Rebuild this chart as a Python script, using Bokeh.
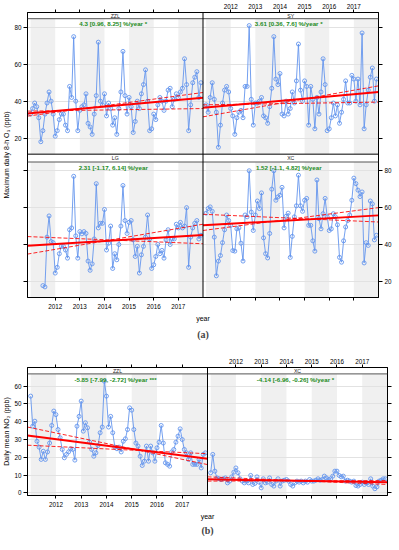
from bokeh.plotting import figure
from bokeh.models import Range1d, LinearAxis, FixedTicker, Span, Title, Grid
from bokeh.layouts import column
from bokeh.embed import file_html
from bokeh.resources import INLINE
from bokeh.core.properties import value

FONT = "Liberation Sans"
BLUE = "cornflowerblue"
GREEN = "forestgreen"

# ---------------- data (monthly means, Jan 2011 - Dec 2017) ----------------
start_year = 2011
tick_years = [2012, 2013, 2014, 2015, 2016, 2017]
shade_years = [2011, 2013, 2015, 2017]
o3_ticks = [20, 40, 60, 80]
no2_ticks = [0, 10, 20, 30, 40, 50, 60]

zzl_o3 = [33, 36, 39, 37, 31, 18, 24, 33, 39, 45, 40, 33,
          21, 24, 30, 33, 33, 27, 24, 48, 42, 75, 40, 24,
          35, 37, 38, 44, 28, 26, 22, 33, 43, 72, 40, 38,
          44, 32, 39, 36, 27, 31, 22, 36, 45, 67, 43, 33,
          42, 37, 23, 29, 40, 36, 44, 49, 57, 40, 24, 25,
          33, 30, 38, 42, 40, 35, 40, 46, 47, 37, 41, 44,
          42, 45, 47, 63, 49, 24, 38, 50, 53, 56, 42, 50]
sy_o3 = [38, 34, 42, 50, 41, 34, 15, 27, 39, 46, 48, 45,
         36, 32, 22, 31, 34, 35, 31, 48, 48, 81, 41, 27,
         39, 39, 40, 42, 32, 31, 28, 37, 47, 75, 52, 49,
         55, 33, 32, 40, 33, 36, 45, 39, 51, 71, 46, 40,
         51, 48, 27, 48, 41, 25, 42, 33, 45, 63, 49, 24,
         25, 31, 39, 32, 38, 28, 34, 41, 51, 39, 39, 54,
         52, 40, 52, 38, 77, 25, 38, 46, 53, 58, 40, 52]
lg_o3 = [None, None, None, None, None, None, 17.7, 17, 44, 55.5, 41.6, 41,
         24.5, 27.6, 35, 39, 39, 37, 32.6, 48, 49, 77, 44.7, 32.6,
         47, 45.8, 47, 46, 31, 26, 29.5, 43, 73, 49, 51.5, 51.5,
         59, 37, 40.7, 50, 27, 35, 31.7, 40, 50, 72, 53, 46,
         52, 53, 42.5, 33.5, 39, 24.5, 34.4, 39, 44, 56, 43, 27,
         29, 33.5, 40, 35, 36.8, 32.6, 42.5, 48, 40, 43, 43, 51,
         49, 52, 49, 50, 60, 27.6, 44, 49, 51.5, 53, 43, 45]
xc_o3 = [57, 59.5, 60.4, 58, 44, 23, 31, 34, 41, 48, 56, 53,
         50.4, 36.7, 36.4, 48.5, 49, 40.7, 31, 56, 55, 80, 57.6, 47.6,
         56, 63.6, 59.5, 68, 43.6, 35, 32.7, 46, 70, 80, 64, 65.8,
         66.7, 71, 49, 55.3, 57, 33, 44.4, 55, 61, 77.6, 61, 58,
         64, 65, 50.4, 50.4, 42, 36.4, 75, 54, 48.5, 56.7, 65, 55,
         47.6, 48.5, 56.7, 55, 50.7, 33, 30.4, 42, 49.5, 53, 56, 64,
         76, 73, 69.5, 66, 68.5, 30, 41, 39.5, 63.6, 62, 42.5, 45]
zzl_no2 = [54.4, 37.5, 40.3, 29, 25.7, 18.8, 23.4, 18.8, 23, 28, 37.9, 46,
           44, 35.6, 31, 24.4, 19.7, 21.6, 23, 24.8, 24.4, 18.4, 37.5, 43,
           51.6, 34.7, 39.4, 36.6, 28.5, 24.4, 20.6, 22.5, 26.6, 33.8, 37, 62.8,
           54.4, 37, 43, 33.8, 25.7, 24.8, 25.7, 23, 29, 30.4, 35.6, 47.8,
           46.5, 35.6, 28, 26.3, 20.6, 15.4, 17.8, 26.3, 17.8, 26.3, 22.5, 17.8,
           25.3, 28.5, 37.9, 28, 16.9, 16, 15, 23, 24.4, 28.5, 31.9, 36,
           30, 24.4, 22.5, 18.8, 22.5, 16, 16, 16, 18.8, 14, 21.6, 22.5]
xc_no2 = [11.3, 21.6, 12.2, 8.4, 7.9, 7.5, 7.9, 8.4, 5.6, 6.6, 9, 11.6,
          14, 11.3, 7.9, 6.6, 5.6, 6.6, 5.6, 9.8, 4.7, 5.3, 9, 6,
          2.8, 7.9, 5.6, 6, 8.4, 4.7, 3.8, 6.6, 7.9, 3.8, 6.6, 7.1,
          7.5, 6.6, 4.7, 3.8, 5.6, 6.6, 6, 6.6, 5.6, 6.6, 6, 7.5,
          6.6, 6.6, 7.1, 7.9, 7.1, 7.5, 9.4, 8.4, 7.5, 7.9, 9.4, 12.2,
          12.2, 9.8, 9, 9.4, 6.6, 7.1, 6.6, 6, 6.6, 4.1, 3.8, 4.7,
          6, 4.7, 5.6, 4.7, 7.9, 3.8, 2.3, 3.4, 6.6, 7.1, 7.9, 7.9]

o3_sites = ["ZZL", "SY", "LG", "XC"]
o3_series = [zzl_o3, sy_o3, lg_o3, xc_o3]
o3_stats = ["4.3 [0.96, 8.25] %/year *", "3.61 [0.36, 7.6] %/year *",
            "2.31 [-1.17, 6.14] %/year", "1.52 [-1.1, 4.82] %/year"]
# trend / confidence lines: value at left and right panel edge (ppb)
o3_trend_start = [33.3, 36.4, 39.3, 50.4]
o3_trend_end = [41.8, 45.0, 45.2, 55.8]
o3_ciA_start = [31.9, 31.5, 34.8, 47.6]
o3_ciA_end = [44.7, 48.3, 51.0, 60.0]
o3_ciB_start = [34.6, 38.0, 44.3, 56.4]
o3_ciB_end = [36.0, 39.5, 40.4, 52.2]

no2_sites = ["ZZL", "XC"]
no2_series = [zzl_no2, xc_no2]
no2_stats = ["-5.85 [-7.99, -2.72] %/year ***", "-4.14 [-6.96, -0.26] %/year *"]
no2_trend_start = [32.3, 7.6]
no2_trend_end = [19.2, 5.9]
no2_ciA_start = [37.0, 9.0]
no2_ciA_end = [15.9, 4.7]
no2_ciB_start = [26.8, 6.6]
no2_ciB_end = [22.0, 6.9]

# ---------------- panel geometry (facets side by side on one scale) ----------------
X0 = 2010.875
XW = 7.125
X1 = X0 + XW

YA0, YA1 = 11.25, 84.75      # O3 panel limits
DYA = 77.75                  # vertical offset of the upper facet row
YA_END = YA1 + DYA + 3.35    # include upper strip
YB0, YB1 = -1.5, 66.9        # NO2 panel limits
YB_END = 70.5

A_FH = 285
B_FH = 128
kA = A_FH / (YA_END - YA0)
kB = B_FH / (YB_END - YB0)


def make_axis(ticks, labels, tick_out=4, standoff=2):
    return LinearAxis(ticker=FixedTicker(ticks=ticks),
                      major_label_overrides=dict(zip(ticks, labels)),
                      axis_line_color="black", axis_line_width=1,
                      major_tick_line_color="black", major_tick_in=0, major_tick_out=tick_out,
                      minor_tick_line_color=None, major_label_standoff=standoff,
                      major_label_text_font=FONT, major_label_text_font_size="6.3px",
                      major_label_text_color="black",
                      axis_label_text_font=FONT, axis_label_text_font_size="7px",
                      axis_label_text_font_style="normal", axis_label_text_color="black")


def base_fig(fw, fh, y0, y1, mb):
    p = figure(frame_width=fw, frame_height=fh,
               x_range=Range1d(X0, X0 + 2 * XW), y_range=Range1d(y0, y1),
               x_axis_location=None, y_axis_location=None,
               toolbar_location=None, output_backend="svg",
               min_border_left=mb[0], min_border_right=mb[1],
               min_border_top=mb[2], min_border_bottom=mb[3],
               outline_line_color="black", outline_line_width=1,
               background_fill_color="white", border_fill_color="white")
    p.xgrid.visible = False
    p.ygrid.visible = False
    return p


def draw_panel(p, k, series, col, oy, ylo, yhi, strip_top, site, stat, tr, ca, cb):
    ox = col * XW
    lefts = [max(y, X0) + ox for y in shade_years]
    rights = [min(y + 1, X1) + ox for y in shade_years]
    p.quad(left=lefts, right=rights, bottom=ylo + oy, top=yhi + oy,
           fill_color="#F0F0F0", line_color=None, level="image")
    xs, ys = [], []
    for i, v in enumerate(series):
        if v is not None:
            xs.append(start_year + i / 12 + ox)
            ys.append(v + oy)
    p.line(xs, ys, line_color=BLUE, line_width=0.9)
    p.scatter(xs, ys, marker="circle", size=4, fill_color=None,
              line_color=BLUE, line_width=0.9)
    ex = [X0 + ox, X1 + ox]
    p.line(ex, [tr[0] + oy, tr[1] + oy], line_color="red", line_width=2)
    for c in (ca, cb):
        p.line(ex, [c[0] + oy, c[1] + oy], line_color="red", line_width=1,
               line_dash="4 2", line_alpha=0.85)
    cx = (X0 + X1) / 2 + ox
    p.text(x=[cx], y=[yhi + oy - 1.6 / k], text=[stat], text_font=value(FONT),
           text_font_size="6.2px", text_font_style="bold", text_color=GREEN,
           text_align="center", text_baseline="top", x_offset=-2)
    p.text(x=[cx], y=[(yhi + oy + strip_top) / 2], text=[site], text_font=value(FONT),
           text_font_size="5.2px", text_color="#222222",
           text_align="center", text_baseline="middle")


xticks = tick_years + [y + XW for y in tick_years]
lab_left = [str(y) for y in tick_years] + [""] * len(tick_years)
lab_right = [""] * len(tick_years) + [str(y) for y in tick_years]

# ---------------- (a) O3 ----------------
pA = base_fig(351, A_FH, YA0, YA_END, (23, 16, 12, 45))
pA.add_layout(Grid(dimension=1, ticker=FixedTicker(ticks=o3_ticks + [t + DYA for t in o3_ticks]),
                   grid_line_color="#E2E2E2", grid_line_width=1, level="underlay"))
o3_col = [0, 1, 0, 1]
o3_row = [1, 1, 0, 0]
for i in range(4):
    oy = o3_row[i] * DYA
    strip_top = YA_END if o3_row[i] == 1 else YA0 + DYA
    draw_panel(pA, kA, o3_series[i], o3_col[i], oy, YA0, YA1, strip_top, o3_sites[i], o3_stats[i],
               (o3_trend_start[i], o3_trend_end[i]), (o3_ciA_start[i], o3_ciA_end[i]),
               (o3_ciB_start[i], o3_ciB_end[i]))

yt = o3_ticks + [t + DYA for t in o3_ticks]
ax_l = make_axis(yt, [""] * 4 + [str(t) for t in o3_ticks], 4, 2)
ax_l.axis_label = "Maximum daily 8-h O\u2083 (ppb)"
ax_l.axis_label_standoff = 1
pA.add_layout(ax_l, "left")
pA.add_layout(make_axis(yt, [str(t) for t in o3_ticks] + [""] * 4, 4, 2), "right")
ax_b = make_axis(xticks, lab_left, 3, 3)
ax_b.axis_label = "year"
ax_b.axis_label_standoff = 3
pA.add_layout(ax_b, "below")
pA.add_layout(make_axis(xticks, lab_right, 3, 1), "above")
for loc, col_, w in [(YA1, "#555555", 1), (YA0 + DYA, "black", 1), (YA1 + DYA, "#555555", 1)]:
    pA.add_layout(Span(location=loc, dimension="width", line_color=col_, line_width=w))
pA.add_layout(Span(location=X1, dimension="height", line_color="black", line_width=1))
pA.add_layout(Title(text="(a)", align="center", text_font="Liberation Serif",
                    text_font_size="10px", text_font_style="bold", standoff=4, offset=-7), "below")

# ---------------- (b) NO2 ----------------
pB = base_fig(360, B_FH, YB0, YB_END, (23, 7, 25, 39))
pB.add_layout(Grid(dimension=1, ticker=FixedTicker(ticks=no2_ticks),
                   grid_line_color="#E2E2E2", grid_line_width=1, level="underlay"))
for i in range(2):
    draw_panel(pB, kB, no2_series[i], i, 0, YB0, YB1, YB_END, no2_sites[i], no2_stats[i],
               (no2_trend_start[i], no2_trend_end[i]), (no2_ciA_start[i], no2_ciA_end[i]),
               (no2_ciB_start[i], no2_ciB_end[i]))
bx_l = make_axis(no2_ticks, [str(t) for t in no2_ticks], 4, 2)
bx_l.axis_label = "Daily mean NO\u2082 (ppb)"
bx_l.axis_label_standoff = 1
pB.add_layout(bx_l, "left")
pB.add_layout(make_axis(no2_ticks, [""] * len(no2_ticks), 4, 2), "right")
bx_b = make_axis(xticks, lab_left, 3, 3)
bx_b.axis_label = "year"
bx_b.axis_label_standoff = 3
pB.add_layout(bx_b, "below")
pB.add_layout(make_axis(xticks, lab_right, 3, 1), "above")
pB.add_layout(Span(location=YB1, dimension="width", line_color="#555555", line_width=1))
pB.add_layout(Span(location=X1, dimension="height", line_color="black", line_width=1))
pB.add_layout(Title(text="(b)", align="center", text_font="Liberation Serif",
                    text_font_size="10px", text_font_style="bold", standoff=1, offset=-8), "below")

layout = column(pA, pB, spacing=0)
with open("out.html", "w") as f:
    f.write(file_html(layout, INLINE))
